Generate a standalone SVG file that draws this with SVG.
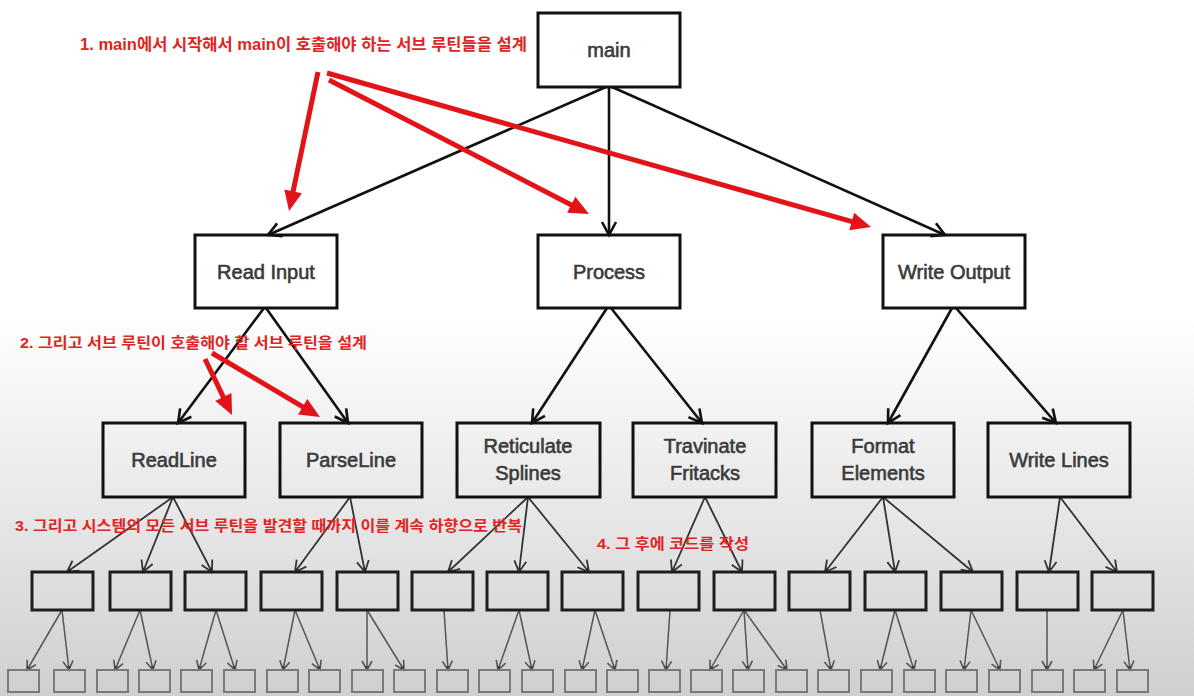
<svg xmlns="http://www.w3.org/2000/svg" width="1194" height="696" viewBox="0 0 1194 696">
<defs>
<linearGradient id="bg" x1="0" y1="0" x2="0" y2="1">
<stop offset="0" stop-color="#ffffff"/>
<stop offset="0.45" stop-color="#ffffff"/>
<stop offset="0.75" stop-color="#e6e6e6"/>
<stop offset="1" stop-color="#cfcfcf"/>
</linearGradient>
<marker id="ab" markerUnits="userSpaceOnUse" viewBox="-16 -9 18 18" markerWidth="18" markerHeight="18" refX="0" refY="0" orient="auto" overflow="visible">
<path d="M-13,-7 L0,0 L-13,7" fill="none" stroke="#111" stroke-width="2.6"/>
<path d="M-5,-2.5 L0,0 L-5,2.5 z" fill="#111"/>
</marker>
<marker id="am" markerUnits="userSpaceOnUse" viewBox="-14 -8 16 16" markerWidth="16" markerHeight="16" refX="0" refY="0" orient="auto" overflow="visible">
<path d="M-11,-6 L0,0 L-11,6" fill="none" stroke="#333" stroke-width="1.8"/>
<path d="M-4,-2 L0,0 L-4,2 z" fill="#333"/>
</marker>
<marker id="as" markerUnits="userSpaceOnUse" viewBox="-12 -7 14 14" markerWidth="14" markerHeight="14" refX="0" refY="0" orient="auto" overflow="visible">
<path d="M-9,-5 L0,0 L-9,5" fill="none" stroke="#555" stroke-width="1.6"/>
<path d="M-4,-2 L0,0 L-4,2 z" fill="#444"/>
</marker>
<marker id="ar" markerUnits="userSpaceOnUse" viewBox="-22 -11 24 22" markerWidth="24" markerHeight="22" refX="-16" refY="0" orient="auto" overflow="visible">
<path d="M-20,-9 L0,0 L-20,9 z" fill="#e2141a"/>
</marker>
</defs>
<style>
.big{fill:none;stroke:#111;stroke-width:3}
.mid{fill:none;stroke:#1e1e1e;stroke-width:3}
.tiny{fill:none;stroke:#7a7a7a;stroke-width:2}
.lbl{font-family:"Liberation Sans",Arial,sans-serif;font-size:20px;fill:#3a3a3a;stroke:#3a3a3a;stroke-width:0.6;text-anchor:middle}
.cb{stroke:#111;stroke-width:2.6;fill:none;marker-end:url(#ab)}
.cm{stroke:#333;stroke-width:1.8;fill:none;marker-end:url(#am)}
.cs{stroke:#555;stroke-width:1.5;fill:none;marker-end:url(#as)}
.cr{stroke:#e2141a;stroke-width:5;fill:none;marker-end:url(#ar)}
.note{font-family:"Liberation Sans","Noto Sans CJK KR",sans-serif;font-weight:bold;fill:#e02424}
</style>
<rect x="0" y="0" width="1194" height="696" fill="url(#bg)"/>

<g id="connectors">
<line class="cb" x1="606" y1="87" x2="268" y2="235"/>
<line class="cb" x1="609" y1="87" x2="609" y2="235"/>
<line class="cb" x1="612" y1="87" x2="945" y2="235"/>
<line class="cb" x1="264" y1="308" x2="178" y2="423"/>
<line class="cb" x1="266" y1="308" x2="348" y2="423"/>
<line class="cb" x1="607" y1="308" x2="532" y2="423"/>
<line class="cb" x1="611" y1="308" x2="702" y2="423"/>
<line class="cb" x1="952" y1="308" x2="888" y2="423"/>
<line class="cb" x1="956" y1="308" x2="1056" y2="423"/>

<line class="cm" x1="173" y1="497" x2="67" y2="572"/>
<line class="cm" x1="173" y1="497" x2="143" y2="572"/>
<line class="cm" x1="173" y1="497" x2="212" y2="572"/>
<line class="cm" x1="350" y1="497" x2="295" y2="572"/>
<line class="cm" x1="350" y1="497" x2="365" y2="572"/>
<line class="cm" x1="528" y1="497" x2="448" y2="572"/>
<line class="cm" x1="528" y1="497" x2="519" y2="572"/>
<line class="cm" x1="528" y1="497" x2="589" y2="572"/>
<line class="cm" x1="705" y1="497" x2="672" y2="572"/>
<line class="cm" x1="705" y1="497" x2="742" y2="572"/>
<line class="cm" x1="883" y1="497" x2="825" y2="572"/>
<line class="cm" x1="883" y1="497" x2="895" y2="572"/>
<line class="cm" x1="883" y1="497" x2="973" y2="572"/>
<line class="cm" x1="1060" y1="497" x2="1049" y2="572"/>
<line class="cm" x1="1060" y1="497" x2="1117" y2="572"/>

<line class="cs" x1="62" y1="610" x2="27" y2="670"/>
<line class="cs" x1="62" y1="610" x2="69" y2="670"/>
<line class="cs" x1="140" y1="610" x2="115" y2="670"/>
<line class="cs" x1="140" y1="610" x2="153" y2="670"/>
<line class="cs" x1="216" y1="610" x2="199" y2="670"/>
<line class="cs" x1="216" y1="610" x2="235" y2="670"/>
<line class="cs" x1="295" y1="610" x2="283" y2="670"/>
<line class="cs" x1="295" y1="610" x2="320" y2="670"/>
<line class="cs" x1="367" y1="610" x2="367" y2="670"/>
<line class="cs" x1="367" y1="610" x2="404" y2="670"/>
<line class="cs" x1="444" y1="610" x2="448" y2="670"/>
<line class="cs" x1="519" y1="610" x2="498" y2="670"/>
<line class="cs" x1="519" y1="610" x2="532" y2="670"/>
<line class="cs" x1="595" y1="610" x2="582" y2="670"/>
<line class="cs" x1="595" y1="610" x2="615" y2="670"/>
<line class="cs" x1="670" y1="610" x2="666" y2="670"/>
<line class="cs" x1="744" y1="610" x2="710" y2="670"/>
<line class="cs" x1="744" y1="610" x2="748" y2="670"/>
<line class="cs" x1="744" y1="610" x2="787" y2="670"/>
<line class="cs" x1="820" y1="610" x2="831" y2="670"/>
<line class="cs" x1="895" y1="610" x2="880" y2="670"/>
<line class="cs" x1="895" y1="610" x2="914" y2="670"/>
<line class="cs" x1="971" y1="610" x2="964" y2="670"/>
<line class="cs" x1="971" y1="610" x2="1000" y2="670"/>
<line class="cs" x1="1047" y1="610" x2="1047" y2="670"/>
<line class="cs" x1="1123" y1="610" x2="1094" y2="670"/>
<line class="cs" x1="1123" y1="610" x2="1130" y2="670"/>
</g>

<g id="n-main"><rect class="big" x="538" y="13" width="142" height="74"/><text class="lbl" x="609" y="57">main</text></g>
<g id="n-readinput"><rect class="big" x="195" y="235" width="142" height="73"/><text class="lbl" x="266" y="279">Read Input</text></g>
<g id="n-process"><rect class="big" x="538" y="235" width="142" height="73"/><text class="lbl" x="609" y="279">Process</text></g>
<g id="n-writeoutput"><rect class="big" x="883" y="235" width="142" height="73"/><text class="lbl" x="954" y="279">Write Output</text></g>

<g id="n-readline"><rect class="big" x="103" y="423" width="142" height="74"/><text class="lbl" x="174" y="467">ReadLine</text></g>
<g id="n-parseline"><rect class="big" x="280" y="423" width="142" height="74"/><text class="lbl" x="351" y="467">ParseLine</text></g>
<g id="n-reticulate"><rect class="big" x="457" y="423" width="143" height="74"/><text class="lbl" x="528" y="453">Reticulate</text><text class="lbl" x="528" y="480">Splines</text></g>
<g id="n-travinate"><rect class="big" x="633" y="423" width="143" height="74"/><text class="lbl" x="705" y="453">Travinate</text><text class="lbl" x="705" y="480">Fritacks</text></g>
<g id="n-format"><rect class="big" x="812" y="423" width="142" height="74"/><text class="lbl" x="883" y="453">Format</text><text class="lbl" x="883" y="480">Elements</text></g>
<g id="n-writelines"><rect class="big" x="988" y="423" width="142" height="74"/><text class="lbl" x="1059" y="467">Write Lines</text></g>

<g id="n-row4">
<rect class="mid" x="32" y="572" width="61" height="38"/>
<rect class="mid" x="110" y="572" width="61" height="38"/>
<rect class="mid" x="185" y="572" width="61" height="38"/>
<rect class="mid" x="261" y="572" width="61" height="38"/>
<rect class="mid" x="337" y="572" width="61" height="38"/>
<rect class="mid" x="412" y="572" width="61" height="38"/>
<rect class="mid" x="487" y="572" width="61" height="38"/>
<rect class="mid" x="562" y="572" width="61" height="38"/>
<rect class="mid" x="638" y="572" width="61" height="38"/>
<rect class="mid" x="714" y="572" width="61" height="38"/>
<rect class="mid" x="789" y="572" width="61" height="38"/>
<rect class="mid" x="865" y="572" width="61" height="38"/>
<rect class="mid" x="941" y="572" width="61" height="38"/>
<rect class="mid" x="1017" y="572" width="61" height="38"/>
<rect class="mid" x="1092" y="572" width="61" height="38"/>
</g>

<g id="n-row5">
<rect class="tiny" x="8" y="670" width="31" height="22"/>
<rect class="tiny" x="54" y="670" width="31" height="22"/>
<rect class="tiny" x="97" y="670" width="31" height="22"/>
<rect class="tiny" x="139" y="670" width="31" height="22"/>
<rect class="tiny" x="181" y="670" width="31" height="22"/>
<rect class="tiny" x="224" y="670" width="31" height="22"/>
<rect class="tiny" x="267" y="670" width="31" height="22"/>
<rect class="tiny" x="309" y="670" width="31" height="22"/>
<rect class="tiny" x="352" y="670" width="31" height="22"/>
<rect class="tiny" x="394" y="670" width="31" height="22"/>
<rect class="tiny" x="437" y="670" width="31" height="22"/>
<rect class="tiny" x="479" y="670" width="31" height="22"/>
<rect class="tiny" x="522" y="670" width="31" height="22"/>
<rect class="tiny" x="565" y="670" width="31" height="22"/>
<rect class="tiny" x="607" y="670" width="31" height="22"/>
<rect class="tiny" x="649" y="670" width="31" height="22"/>
<rect class="tiny" x="691" y="670" width="31" height="22"/>
<rect class="tiny" x="733" y="670" width="31" height="22"/>
<rect class="tiny" x="776" y="670" width="31" height="22"/>
<rect class="tiny" x="818" y="670" width="31" height="22"/>
<rect class="tiny" x="861" y="670" width="31" height="22"/>
<rect class="tiny" x="904" y="670" width="31" height="22"/>
<rect class="tiny" x="946" y="670" width="31" height="22"/>
<rect class="tiny" x="989" y="670" width="31" height="22"/>
<rect class="tiny" x="1032" y="670" width="31" height="22"/>
<rect class="tiny" x="1074" y="670" width="31" height="22"/>
<rect class="tiny" x="1117" y="670" width="31" height="22"/>
</g>

<g id="annotations">
<line class="cr" x1="318" y1="72" x2="292.3" y2="195.3"/>
<line class="cr" x1="329" y1="80" x2="574.8" y2="206.7"/>
<line class="cr" x1="327" y1="73" x2="855.6" y2="222.6"/>
<line class="cr" x1="205" y1="359" x2="225.1" y2="400.6"/>
<line class="cr" x1="212" y1="353" x2="306.2" y2="408.8"/>
<text class="note" x="80" y="50" font-size="16" textLength="447" lengthAdjust="spacingAndGlyphs">1. main에서 시작해서 main이 호출해야 하는 서브 루틴들을 설계</text>
<text class="note" x="20" y="348" font-size="15" textLength="347" lengthAdjust="spacingAndGlyphs">2. 그리고 서브 루틴이 호출해야 할 서브 루틴을 설계</text>
<text class="note" x="15" y="531" font-size="15" textLength="507" lengthAdjust="spacingAndGlyphs">3. 그리고 시스템의 모든 서브 루틴을 발견할 때까지 이를 계속 하향으로 반복</text>
<text class="note" x="597" y="549" font-size="15" textLength="152" lengthAdjust="spacingAndGlyphs">4. 그 후에 코드를 작성</text>
</g>
</svg>
